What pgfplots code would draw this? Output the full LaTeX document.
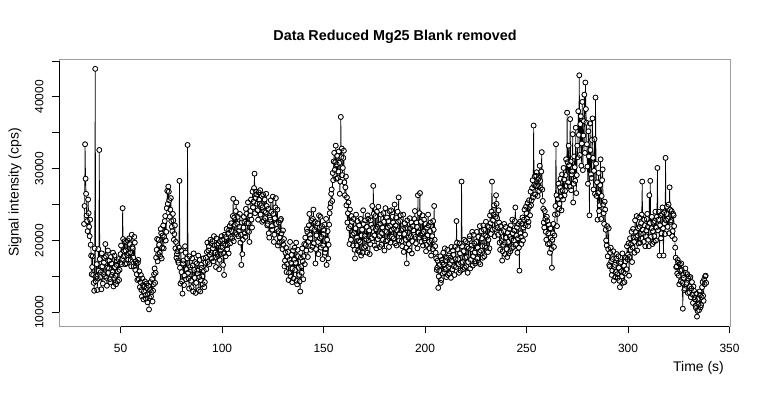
\documentclass[border=0pt]{standalone}
\usepackage{fontspec}
\setmainfont{Liberation Sans}
\usepackage{pgfplots}
\usepackage{pgfplotstable}
\pgfplotsset{compat=1.18}
\pgfplotstableread{
t y
32.0 22300
32.5 33400
33.0 26500
33.5 22700
34.0 25700
34.5 21900
35.0 22900
35.5 17900
36.0 16300
36.5 15200
37.0 13000
37.5 43900
38.0 15000
38.5 13100
39.0 18800
39.5 32600
40.0 14900
40.5 13200
41.0 16400
41.5 15300
42.0 17600
42.5 19500
43.0 14800
43.5 16200
44.0 15500
44.5 17200
45.0 14200
45.5 16800
46.0 15600
46.5 13600
47.0 17900
47.5 15100
48.0 16600
48.5 14300
49.0 17400
49.5 15900
50.0 18100
50.5 16700
51.0 24500
51.5 17800
52.0 19900
52.5 18600
53.0 16800
53.5 20000
54.0 18200
54.5 19500
55.0 17300
55.5 20800
56.0 18900
56.5 16400
57.0 19700
57.5 17100
58.0 15300
58.5 16900
59.0 14600
59.5 13500
60.0 15200
60.5 12200
61.0 13800
61.5 12900
62.0 14300
62.5 11900
63.0 13400
63.5 12500
64.0 10400
64.5 13100
65.0 12200
65.5 14600
66.0 13000
66.5 15300
67.0 14100
67.5 17600
68.0 20200
68.5 18100
69.0 19400
69.5 17800
70.0 21000
70.5 19000
71.0 22100
71.5 20500
72.0 23400
72.5 21200
73.0 26900
73.5 27500
74.0 25600
74.5 24300
75.0 22700
75.5 21300
76.0 22800
76.5 20900
77.0 18900
77.5 17600
78.0 18500
78.5 16900
79.0 28300
79.5 14000
80.0 15600
80.5 12600
81.0 17200
81.5 15100
82.0 18300
82.5 16000
83.0 33300
83.5 14700
84.0 17800
84.5 15900
85.0 13500
85.5 16500
86.0 18200
86.5 14800
87.0 12700
87.5 16800
88.0 15400
88.5 13100
89.0 17300
89.5 14500
90.0 16200
90.5 13900
91.0 15800
91.5 14200
92.0 17600
92.5 18400
93.0 17000
93.5 19200
94.0 18000
94.5 19600
95.0 17500
95.5 18900
96.0 20600
96.5 18300
97.0 16300
97.5 19400
98.0 17800
98.5 16000
99.0 19900
99.5 18600
100.0 20100
100.5 16600
101.0 15200
101.5 19300
102.0 20500
102.5 18800
103.0 20900
103.5 21500
104.0 19600
104.5 22400
105.0 20300
105.5 25800
106.0 23200
106.5 21100
107.0 25300
107.5 22300
108.0 20600
108.5 21900
109.0 19700
109.5 16600
110.0 18100
110.5 21800
111.0 22600
111.5 20500
112.0 23700
112.5 21300
113.0 22400
113.5 19800
114.0 24100
114.5 22900
115.0 26800
115.5 25400
116.0 29300
116.5 25900
117.0 26400
117.5 24200
118.0 26700
118.5 25100
119.0 23600
119.5 26200
120.0 24600
120.5 22800
121.0 25700
121.5 23900
122.0 24800
122.5 22300
123.0 21000
123.5 23200
124.0 25600
124.5 22000
125.0 26100
125.5 19800
126.0 23100
126.5 25900
127.0 21600
127.5 19300
128.0 22500
128.5 20400
129.0 23000
129.5 19900
130.0 21400
130.5 20200
131.0 17200
131.5 19000
132.0 16700
132.5 18400
133.0 15500
133.5 19800
134.0 16900
134.5 14200
135.0 18600
135.5 17300
136.0 15900
136.5 19700
137.0 13900
137.5 17800
138.0 15200
138.5 12900
139.0 16400
139.5 18900
140.0 14600
140.5 19500
141.0 20400
141.5 18600
142.0 21200
142.5 19800
143.0 23700
143.5 20300
144.0 22800
144.5 19100
145.0 24300
145.5 21500
146.0 16800
146.5 20700
147.0 22400
147.5 18100
148.0 21800
148.5 23300
149.0 20500
149.5 17400
150.0 20900
150.5 22200
151.0 18800
151.5 16600
152.0 21300
152.5 19400
153.0 23800
153.5 25200
154.0 27100
154.5 29400
155.0 31000
155.5 29800
156.0 33200
156.5 30600
157.0 28700
157.5 32400
158.0 26500
158.5 37200
159.0 32800
159.5 30100
160.0 32500
160.5 26300
161.0 28900
161.5 26000
162.0 23800
162.5 21700
163.0 24300
163.5 20100
164.0 22600
164.5 19300
165.0 21000
165.5 17500
166.0 23600
166.5 20400
167.0 18600
167.5 22100
168.0 19800
168.5 17900
169.0 21500
169.5 24200
170.0 19000
170.5 22800
171.0 20200
171.5 18300
172.0 23000
172.5 21400
173.0 19500
173.5 22200
174.0 24800
174.5 27600
175.0 20700
175.5 23400
176.0 18900
176.5 21900
177.0 24700
177.5 20600
178.0 22300
178.5 19400
179.0 21800
179.5 23800
180.0 18600
180.5 24500
181.0 21200
181.5 20000
182.0 22700
182.5 24100
183.0 19700
183.5 21500
184.0 23300
184.5 20300
185.0 25000
185.5 22100
186.0 19300
186.5 24000
187.0 26000
187.5 21000
188.0 23500
188.5 19900
189.0 21600
189.5 18400
190.0 22400
190.5 20100
191.0 16800
191.5 21700
192.0 19500
192.5 23100
193.0 20600
193.5 18200
194.0 22000
194.5 20800
195.0 24100
195.5 19600
196.0 21900
196.5 26300
197.0 20400
197.5 26600
198.0 22600
198.5 21000
199.0 19300
199.5 22900
200.0 20300
200.5 18500
201.0 21800
201.5 23600
202.0 19800
202.5 21300
203.0 17900
203.5 20600
204.0 22700
204.5 24800
205.0 19200
205.5 17500
206.0 16200
206.5 13400
207.0 15800
207.5 17800
208.0 14500
208.5 16900
209.0 18300
209.5 15600
210.0 17200
210.5 14900
211.0 18700
211.5 16300
212.0 15400
212.5 17600
213.0 19100
213.5 16000
214.0 18000
214.5 15200
215.0 17400
215.5 22700
216.0 18800
216.5 16700
217.0 19600
217.5 15800
218.0 28200
218.5 17000
219.0 18500
219.5 16200
220.0 19900
220.5 17700
221.0 15500
221.5 18900
222.0 20600
222.5 17300
223.0 19300
223.5 16500
224.0 20800
224.5 18300
225.0 17100
225.5 21200
226.0 19000
226.5 16900
227.0 22000
227.5 18600
228.0 20300
228.5 17600
229.0 21500
229.5 19200
230.0 22600
230.5 20500
231.0 18400
231.5 21900
232.0 23500
232.5 20900
233.0 28200
233.5 22800
234.0 24900
234.5 21600
235.0 26300
235.5 23100
236.0 20800
236.5 22500
237.0 18700
237.5 21100
238.0 17200
238.5 19400
239.0 22300
239.5 18100
240.0 20400
240.5 17700
241.0 19800
241.5 21600
242.0 18500
242.5 20200
243.0 22900
243.5 19100
244.0 21400
244.5 24600
245.0 20700
245.5 18300
246.0 22300
246.5 15800
247.0 21000
247.5 19500
248.0 23200
248.5 21800
249.0 24300
249.5 22100
250.0 23800
250.5 25200
251.0 22600
251.5 24700
252.0 26800
252.5 25600
253.0 28400
253.5 36000
254.0 28900
254.5 27600
255.0 29500
255.5 26200
256.0 28700
256.5 30400
257.0 27300
257.5 32300
258.0 25500
258.5 22500
259.0 24100
259.5 21200
260.0 23300
260.5 19500
261.0 22200
261.5 18300
262.0 20400
262.5 16200
263.0 21000
263.5 19100
264.0 23600
264.5 33400
265.0 22000
265.5 25800
266.0 24400
266.5 27400
267.0 26100
267.5 29200
268.0 25700
268.5 28500
269.0 26900
269.5 31300
270.0 37800
270.5 28100
271.0 30500
271.5 36900
272.0 27000
272.5 29600
273.0 25300
273.5 31700
274.0 28300
274.5 26600
275.0 33200
275.5 38000
276.0 43000
276.5 36200
277.0 30400
277.5 39300
278.0 34600
278.5 40300
279.0 42000
279.5 36400
280.0 30300
280.5 35200
281.0 23500
281.5 32600
282.0 28700
282.5 37000
283.0 27100
283.5 34100
284.0 39900
284.5 26200
285.0 22900
285.5 29400
286.0 24900
286.5 31300
287.0 26200
287.5 29900
288.0 23800
288.5 25400
289.0 21500
289.5 19300
290.0 17800
290.5 21700
291.0 16400
291.5 19000
292.0 15200
292.5 17400
293.0 14400
293.5 16600
294.0 15600
294.5 18100
295.0 14800
295.5 16200
296.0 13500
296.5 17000
297.0 15000
297.5 14100
298.0 16500
298.5 15400
299.0 17600
299.5 19200
300.0 18000
300.5 15100
301.0 20300
301.5 19500
302.0 17000
302.5 21600
303.0 19800
303.5 22800
304.0 20500
304.5 18600
305.0 21700
305.5 23200
306.0 19700
306.5 22400
307.0 28200
307.5 20900
308.0 22900
308.5 19200
309.0 21400
309.5 23700
310.0 20100
310.5 26300
311.0 28300
311.5 21700
312.0 19500
312.5 22500
313.0 20600
313.5 24000
314.0 21800
314.5 30100
315.0 22900
315.5 17900
316.0 23500
316.5 21000
317.0 24600
317.5 17900
318.0 22400
318.5 31500
319.0 23700
319.5 21900
320.0 25000
320.5 27400
321.0 22600
321.5 24100
322.0 21300
322.5 23500
323.0 20200
323.5 17600
324.0 16400
324.5 17300
325.0 15100
325.5 16700
326.0 14300
326.5 15900
327.0 10500
327.5 14800
328.0 13300
328.5 15500
329.0 14100
329.5 12700
330.0 15000
330.5 13600
331.0 12100
331.5 14200
332.0 11300
332.5 13000
333.0 11800
333.5 10600
334.0 9400
334.5 11900
335.0 10300
335.5 12400
336.0 11000
336.5 13500
337.0 12300
337.5 14600
338.0 15000
338.5 14100
}\mgdataA
\pgfplotstableread{
t y
32.25 24800
32.75 28600
33.25 23500
33.75 21300
34.25 23800
34.75 20600
35.25 19400
35.75 15300
36.25 17800
36.75 14100
37.25 18900
37.75 14300
38.25 16700
38.75 14700
39.25 15800
39.75 17400
40.25 15600
40.75 18200
41.25 14000
41.75 16900
42.25 15000
42.75 17800
43.25 13700
43.75 18600
44.25 16100
44.75 14600
45.25 17700
45.75 15200
46.25 18300
46.75 14800
47.25 16300
47.75 13900
48.25 17100
48.75 15700
49.25 14500
49.75 16900
50.25 19300
50.75 17400
51.25 20200
51.75 18500
52.25 16700
52.75 19800
53.25 18000
53.75 17300
54.25 20300
54.75 18300
55.25 16400
55.75 19100
56.25 17600
56.75 20500
57.25 15900
57.75 16800
58.25 14500
58.75 17300
59.25 15700
59.75 14200
60.25 13100
60.75 14700
61.25 11800
61.75 13600
62.25 12400
62.75 14000
63.25 11400
63.75 13700
64.25 12000
64.75 14200
65.25 12800
65.75 11500
66.25 13900
66.75 16100
67.25 15500
67.75 18700
68.25 17100
68.75 20100
69.25 18300
69.75 21600
70.25 17500
70.75 20700
71.25 18900
71.75 22700
72.25 20000
72.75 24500
73.25 25100
73.75 26800
74.25 23300
74.75 25900
75.25 21900
75.75 23700
76.25 20100
76.75 22100
77.25 19800
77.75 18100
78.25 17200
78.75 19000
79.25 16200
79.75 18600
80.25 14300
80.75 16800
81.25 13800
81.75 19200
82.25 14600
82.75 17500
83.25 15500
83.75 13300
84.25 16300
84.75 14400
85.25 17500
85.75 12900
86.25 15900
86.75 17000
87.25 14100
87.75 15800
88.25 17900
88.75 14900
89.25 12900
89.75 16600
90.25 15000
90.75 17500
91.25 13500
91.75 16900
92.25 16000
92.75 19700
93.25 18600
93.75 16700
94.25 20100
94.75 18300
95.25 19900
95.75 17100
96.25 19300
96.75 17600
97.25 20300
97.75 18100
98.25 19600
98.75 17300
99.25 18100
99.75 20600
100.25 19000
100.75 18200
101.25 20800
101.75 17800
102.25 21600
102.75 19400
103.25 18200
103.75 22000
104.25 20500
104.75 21300
105.25 23400
105.75 19900
106.25 22200
106.75 24100
107.25 20900
107.75 23300
108.25 21300
108.75 23700
109.25 20800
109.75 22500
110.25 20100
110.75 23300
111.25 21000
111.75 24400
112.25 22400
112.75 25300
113.25 21200
113.75 23500
114.25 25700
114.75 21800
115.25 24600
115.75 27300
116.25 23800
116.75 26800
117.25 25100
117.75 22900
118.25 25700
118.75 27000
119.25 24900
119.75 22600
120.25 26400
120.75 24100
121.25 23100
121.75 26500
122.25 22100
122.75 24400
123.25 20400
123.75 22900
124.25 24000
124.75 21500
125.25 23700
125.75 20800
126.25 24600
126.75 22300
127.25 24300
127.75 21300
128.25 19700
128.75 22800
129.25 21000
129.75 18800
130.25 19400
130.75 16400
131.25 18300
131.75 15600
132.25 17700
132.75 14500
133.25 17300
133.75 15000
134.25 18000
134.75 16100
135.25 14700
135.75 19000
136.25 16900
136.75 14400
137.25 18700
137.75 16200
138.25 14300
138.75 17600
139.25 15500
139.75 17100
140.25 17800
140.75 16700
141.25 19400
141.75 21600
142.25 17700
142.75 22100
143.25 20800
143.75 18700
144.25 21700
144.75 23000
145.25 19600
145.75 22600
146.25 18800
146.75 21800
147.25 19800
147.75 23500
148.25 20300
148.75 19000
149.25 22000
149.75 19300
150.25 21400
150.75 18300
151.25 23000
151.75 20100
152.25 17500
152.75 22200
153.25 24600
153.75 26500
154.25 25500
154.75 28400
155.25 32200
155.75 30900
156.25 28600
156.75 31800
157.25 29600
157.75 30800
158.25 28200
158.75 31600
159.25 29100
159.75 31500
160.25 28100
160.75 27400
161.25 24900
161.75 22500
162.25 25300
162.75 19500
163.25 22000
163.75 23400
164.25 20800
164.75 23000
165.25 18700
165.75 21700
166.25 19300
166.75 22700
167.25 20000
167.75 18400
168.25 23000
168.75 20700
169.25 18300
169.75 22300
170.25 20600
170.75 19200
171.25 21900
171.75 23500
172.25 20000
172.75 18100
173.25 22800
173.75 20300
174.25 21800
174.75 23700
175.25 19300
175.75 21600
176.25 24000
176.75 20200
177.25 22200
177.75 19100
178.25 23600
178.75 21000
179.25 20100
179.75 22600
180.25 21300
180.75 19900
181.25 23200
181.75 21800
182.25 19100
182.75 22000
183.25 24200
183.75 20500
184.25 22500
184.75 21600
185.25 19600
185.75 23200
186.25 21400
186.75 22600
187.25 20000
187.75 22700
188.25 21400
188.75 19200
189.25 23600
189.75 20900
190.25 21700
190.75 19000
191.25 22800
191.75 20400
192.25 18600
192.75 21700
193.25 22500
193.75 19900
194.25 21400
194.75 23000
195.25 20500
195.75 22500
196.25 18900
196.75 21100
197.25 23800
197.75 20800
198.25 19800
198.75 23500
199.25 21200
199.75 20000
200.25 22300
200.75 19400
201.25 20700
201.75 22100
202.25 18900
202.75 22500
203.25 20000
203.75 18800
204.25 21500
204.75 20100
205.25 18300
205.75 15900
206.25 17200
206.75 15000
207.25 16600
207.75 14100
208.25 17300
208.75 15400
209.25 16700
209.75 18900
210.25 16000
210.75 17600
211.25 15200
211.75 17900
212.25 16700
212.75 14800
213.25 17200
213.75 18600
214.25 16400
214.75 19100
215.25 16300
215.75 19700
216.25 17400
216.75 15500
217.25 18200
217.75 16900
218.25 19200
218.75 16000
219.25 20100
219.75 17600
220.25 16400
220.75 19100
221.25 17000
221.75 20200
222.25 16100
222.75 18800
223.25 21200
223.75 17800
224.25 19600
224.75 16800
225.25 19800
225.75 17500
226.25 20500
226.75 18400
227.25 16700
227.75 21300
228.25 19200
228.75 22100
229.25 17800
229.75 20700
230.25 19000
230.75 22000
231.25 20100
231.75 18900
232.25 22400
232.75 24000
233.25 21500
233.75 23600
234.25 20600
234.75 23300
235.25 25100
235.75 21800
236.25 24200
236.75 19700
237.25 22000
237.75 19900
238.25 18500
238.75 21300
239.25 19700
239.75 21900
240.25 18800
240.75 21100
241.25 18200
241.75 20500
242.25 22100
242.75 18900
243.25 21000
243.75 20000
244.25 22700
244.75 19400
245.25 21800
245.75 20300
246.25 19000
246.75 22600
247.25 20500
247.75 22300
248.25 20000
248.75 22900
249.25 20800
249.75 24700
250.25 23000
250.75 22000
251.25 25600
251.75 23500
252.25 24900
252.75 27300
253.25 26000
253.75 27700
254.25 26400
254.75 29000
255.25 27600
255.75 28500
256.25 26900
256.75 28300
257.25 29600
257.75 27100
258.25 24400
258.75 21800
259.25 23000
259.75 20100
260.25 22700
260.75 21000
261.25 19600
261.75 21700
262.25 18800
262.75 20100
263.25 22300
263.75 20700
264.25 24800
264.75 26300
265.25 23700
265.75 27900
266.25 25100
266.75 28600
267.25 24200
267.75 27000
268.25 30100
268.75 26300
269.25 29100
269.75 27600
270.25 30900
270.75 33200
271.25 27500
271.75 31000
272.25 29200
272.75 34800
273.25 27900
273.75 30200
274.25 35700
274.75 29100
275.25 31600
275.75 34700
276.25 31900
276.75 37300
277.25 33500
277.75 29800
278.25 36600
278.75 32200
279.25 38300
279.75 33400
280.25 27900
280.75 31700
281.25 36300
281.75 29200
282.25 34000
282.75 31500
283.25 29700
283.75 26500
284.25 30700
284.75 28100
285.25 26600
285.75 24100
286.25 27700
286.75 23000
287.25 28400
287.75 25000
288.25 22300
288.75 24300
289.25 20000
289.75 22000
290.25 18800
290.75 16600
291.25 18300
291.75 17100
292.25 15800
292.75 18500
293.25 16300
293.75 14900
294.25 17500
294.75 15300
295.25 17800
295.75 14400
296.25 16800
296.75 15700
297.25 18200
297.75 15600
298.25 14200
298.75 17100
299.25 16000
299.75 17400
300.25 19600
300.75 17700
301.25 18700
301.75 21200
302.25 19000
302.75 20400
303.25 18300
303.75 21200
304.25 23400
304.75 20700
305.25 19600
305.75 21900
306.25 20900
306.75 23600
307.25 21500
307.75 19800
308.25 22100
308.75 20600
309.25 23000
309.75 21900
310.25 19200
310.75 22400
311.25 20500
311.75 23300
312.25 21300
312.75 19800
313.25 22700
313.75 20000
314.25 23300
314.75 21400
315.25 24000
315.75 22100
316.25 20300
316.75 23700
317.25 21700
317.75 23900
318.25 20900
318.75 22800
319.25 24700
319.75 23000
320.25 21000
320.75 24300
321.25 22800
321.75 20600
322.25 23700
322.75 22000
323.25 19000
323.75 16300
324.25 15400
324.75 16900
325.25 13900
325.75 15800
326.25 16800
326.75 14100
327.25 15200
327.75 13100
328.25 16100
328.75 13900
329.25 15300
329.75 14700
330.25 12800
330.75 14900
331.25 13300
331.75 12500
332.25 13600
332.75 12100
333.25 10900
333.75 12600
334.25 10200
334.75 11100
335.25 12900
335.75 10700
336.25 12100
336.75 14200
337.25 11600
337.75 13900
338.25 15100
}\mgdataB
\pgfplotstablevertcat{\mgdataA}{\mgdataB}
\pgfplotstablesort{\mgdata}{\mgdataA}

\begin{document}
\begin{tikzpicture}
\begin{axis}[
  at={(59.3bp,73.7bp)}, anchor=south west,
  scale only axis, width=671.4bp, height=267.3bp,
  xmin=19.8, xmax=350.6, ymin=8050, ymax=45270,
  scaled y ticks=false, scaled x ticks=false,
  axis line style={gray!75, line width=0.8bp},
  xtick={50,100,150,200,250,300,350},
  xticklabels={50,100,150,200,250,300,350},
  ytick={10000,15000,20000,25000,30000,35000,40000,45000},
  yticklabels={10000,,20000,,30000,,40000,},
  tick align=outside, major tick length=7bp,
  xtick pos=bottom, ytick pos=left,
  tick style={black, line width=0.8bp},
  xticklabel style={font=\fontsize{12}{14}\selectfont, anchor=base, inner sep=0pt, yshift=-19.5bp},
  yticklabel style={font=\fontsize{12}{14}\selectfont, xshift=-9bp, rotate=90, anchor=base, inner sep=0pt},
  title={Data Reduced Mg25 Blank removed},
  title style={at={(axis description cs:0.5,1.0486)}, anchor=base, inner sep=0pt, font=\bfseries\fontsize{14.4}{16}\selectfont},
  xlabel={Time (s)},
  xlabel style={at={(axis description cs:0.990,-0.168)}, anchor=base east, inner sep=0pt, font=\fontsize{14}{16}\selectfont},
  ylabel={Signal intensity (cps)},
  ylabel style={at={(axis description cs:-0.066,0.5)}, anchor=center, inner sep=0pt, font=\fontsize{14}{16}\selectfont},
  clip=false,
]
\addplot[black, line width=0.65bp, no markers] table[x=t, y=y] {\mgdata};
\addplot[only marks, mark=*, mark size=2.5bp, mark options={draw=none, fill=white}] table[x=t, y=y] {\mgdata};
\addplot[only marks, mark=o, mark size=2.5bp, mark options={black, line width=0.7bp}] table[x=t, y=y] {\mgdata};
\draw[black, line width=0.8bp] (axis cs:19.8,10000) -- (axis cs:19.8,45000);
\draw[black, line width=0.8bp] (axis cs:50,8050) -- (axis cs:350,8050);
\end{axis}
\pgfresetboundingbox
\useasboundingbox (0,0) rectangle (760bp,400bp);
\end{tikzpicture}
\end{document}
